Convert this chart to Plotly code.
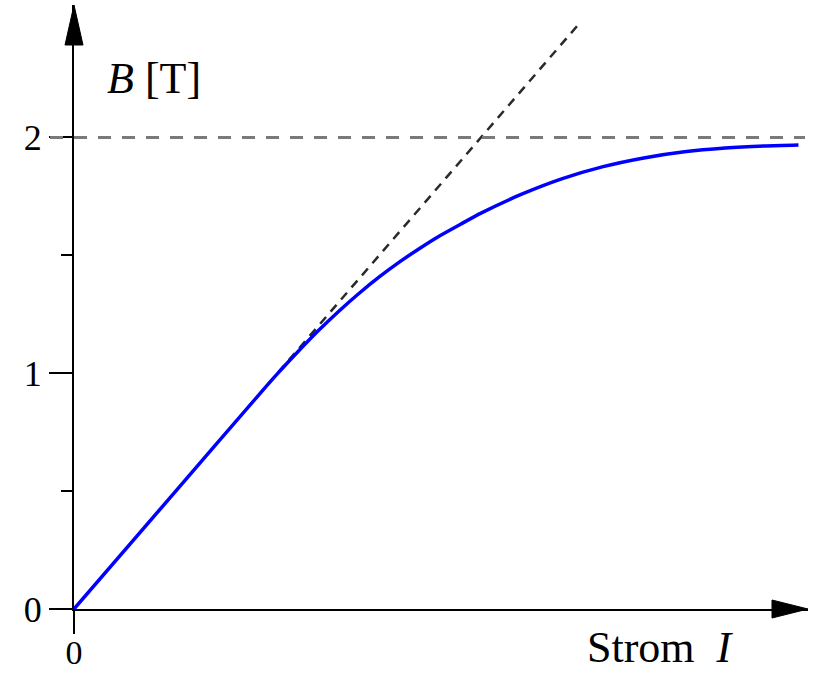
import plotly.graph_objects as go

# ---- data ----
current_I = [0, 0.5, 0.9, 1.0, 1.1, 1.2, 1.3, 1.4, 1.5, 1.6, 1.7, 1.8, 1.9, 2.0,
             2.2, 2.4, 2.6, 2.8, 3.0, 3.2, 3.4, 3.56]
field_B = [0, 0.5, 0.9, 0.998, 1.091, 1.18, 1.262, 1.338, 1.408, 1.472, 1.53, 1.584, 1.632, 1.679,
           1.759, 1.825, 1.876, 1.913, 1.939, 1.955, 1.964, 1.968]
tangent_I = [0.85, 2.485]
tangent_B = [0.85, 2.485]
saturation_B = 2
y_major = [0, 1, 2]
y_major_text = ["0", "1", "2"]
y_minor = [0.5, 1.5]
x_ticks = [0]
x_tick_text = ["0"]

W, H = 814, 675
ML, MR, MT, MB = 74, 6, 5, 66
PW, PH = W - ML - MR, H - MT - MB
XPX, YPX = 203.5, 235.8  # pixels per unit
XMAX, YMAX = PW / XPX, PH / YPX

SERIF = "Liberation Serif, Times New Roman, serif"

fig = go.Figure()
fig.add_trace(go.Scatter(x=tangent_I, y=tangent_B, mode="lines",
                         line=dict(color="#2a2a2a", width=2.5, dash="9px,7px"),
                         hoverinfo="skip", showlegend=False))
fig.add_trace(go.Scatter(x=current_I, y=field_B, mode="lines",
                         line=dict(color="#0000ff", width=3.5, shape="spline", smoothing=0.6),
                         showlegend=False))

# horizontal saturation line (extends left to the tick ends)
fig.add_shape(type="line", xref="paper", yref="y",
              x0=-24 / PW, x1=(805 - ML) / PW, y0=saturation_B, y1=saturation_B,
              line=dict(color="#7a7a7a", width=3, dash="13px,11px"))

# arrow heads
fig.add_shape(type="path", xref="paper", yref="paper",
              path=f"M 0 1 L {-9/PW} {1-40/PH} L {9/PW} {1-40/PH} Z",
              fillcolor="black", line=dict(color="black", width=1))
fig.add_shape(type="path", xref="paper", yref="paper",
              path=f"M 1 0 L {1-36/PW} {-9/PH} L {1-36/PW} {9/PH} Z",
              fillcolor="black", line=dict(color="black", width=1))

fig.add_annotation(xref="paper", yref="paper", x=(105 - ML) / PW, y=1 - 73 / PH,
                   xanchor="left", yanchor="middle", showarrow=False,
                   text="<i>B</i> [T]", font=dict(family=SERIF, size=44, color="black"))
fig.add_annotation(xref="paper", yref="paper", x=(585 - ML) / PW, y=0, yshift=-38,
                   xanchor="left", yanchor="middle", showarrow=False,
                   text="Strom&nbsp;&nbsp;<i>I</i>", font=dict(family=SERIF, size=44, color="black"))

fig.update_layout(
    width=W, height=H, margin=dict(l=ML, r=MR, t=MT, b=MB, autoexpand=False),
    paper_bgcolor="white", plot_bgcolor="white",
    xaxis=dict(range=[0, XMAX], showgrid=False, zeroline=False, showline=True, automargin=False,
               linecolor="black", linewidth=2, ticks="outside", ticklen=23, tickwidth=2,
               tickcolor="black", tickvals=x_ticks, ticktext=x_tick_text,
               ticklabelstandoff=-11,
               tickfont=dict(family=SERIF, size=34, color="black")),
    yaxis=dict(range=[0, YMAX], showgrid=False, zeroline=False, showline=True, automargin=False,
               linecolor="black", linewidth=2, ticks="outside", ticklen=23, tickwidth=2,
               tickcolor="black", tickvals=y_major, ticktext=y_major_text,
               tickfont=dict(family=SERIF, size=36, color="black"),
               minor=dict(tickvals=y_minor, ticks="outside", ticklen=11, tickwidth=2,
                          tickcolor="black", showgrid=False)),
)

fig.write_html("out.html")
